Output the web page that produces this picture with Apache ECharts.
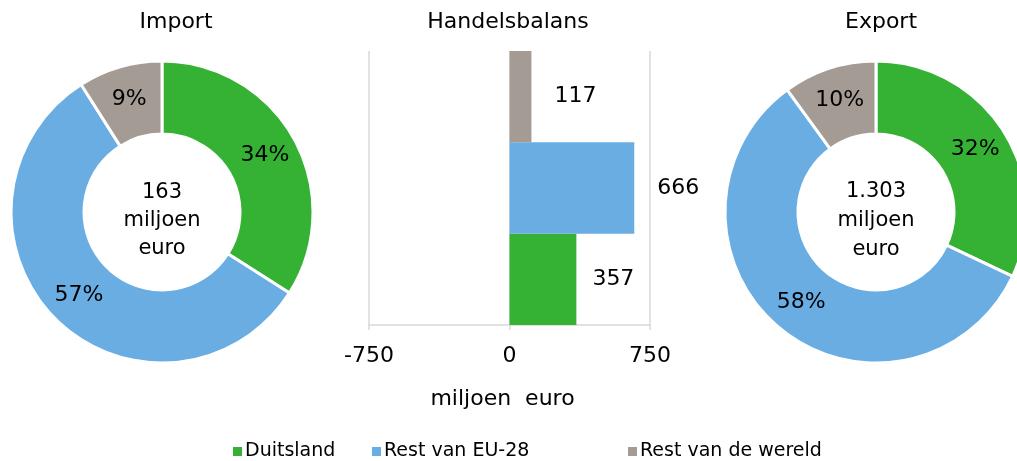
<!DOCTYPE html>
<html>
<head>
<meta charset="utf-8">
<script src="https://cdn.jsdelivr.net/npm/echarts@6/dist/echarts.min.js"></script>
<style>html,body{margin:0;padding:0;background:#fff}#c{width:1017px;height:461px}</style>
</head>
<body>
<div id="c"></div>
<script>
// Data
const categories = ['Duitsland', 'Rest van EU-28', 'Rest van de wereld'];
const importShare = [34, 57, 9];       // % of import
const exportShare = [32, 58, 10];      // % of export
const balance = [357, 666, 117];       // miljoen euro
const importTotal = '163';
const exportTotal = '1.303';
const balanceTicks = [-750, 0, 750];
const colors = ['#35b234', '#6aade3', '#a49b94'];
const barLabelGap = [16, 23, 23];

const FONT = '"DejaVu Sans", Verdana, sans-serif';
const chart = echarts.init(document.getElementById('c'));

function pieSeries(name, shares, cx) {
  return {
    type: 'pie', name: name,
    center: [cx, 212], radius: [78, 151],
    startAngle: 90, clockwise: true,
    avoidLabelOverlap: false,
    itemStyle: { borderColor: '#fff', borderWidth: 3 },
    label: {
      show: true, position: 'inside', color: '#000',
      fontFamily: FONT, fontSize: 22,
      formatter: p => Math.round(p.value) + '%'
    },
    labelLine: { show: false },
    emphasis: { scale: false },
    data: categories.map((c, i) => ({ name: c, value: shares[i], itemStyle: { color: colors[i] } }))
  };
}

function legend(name, left) {
  return {
    data: [name], left: left, top: 442, padding: 0,
    icon: 'rect', itemWidth: 9, itemHeight: 9, itemGap: 4,
    itemStyle: { borderWidth: 0 },
    textStyle: { fontFamily: FONT, fontSize: 19, color: '#000', padding: [2, 0, 0, -2] }
  };
}

const txt = (text, x, y, extra) => ({
  type: 'text', x: x, y: y,
  style: Object.assign({ text: text, fill: '#000', font: '22px ' + FONT, textAlign: 'center', textVerticalAlign: 'middle' }, extra || {})
});

chart.setOption({
  animation: false,
  textStyle: { fontFamily: FONT },
  legend: [legend(categories[0], 233), legend(categories[1], 372), legend(categories[2], 628)],
  grid: { left: 369, right: 367, top: 51, bottom: 136, containLabel: false },
  xAxis: {
    type: 'value', min: -750, max: 750, interval: 750,
    axisLine: { show: true, lineStyle: { color: '#d9d9d9', width: 1.5 } },
    axisTick: { show: true, length: 5, lineStyle: { color: '#d9d9d9', width: 1.5 } },
    splitLine: { show: true, lineStyle: { color: '#d9d9d9', width: 1.5 } },
    axisLabel: { color: '#000', fontFamily: FONT, fontSize: 22, margin: 20,
      formatter: v => balanceTicks.includes(v) ? String(v) : '' },
    name: 'miljoen  euro', nameLocation: 'middle', nameGap: 63,
    nameTextStyle: { color: '#000', fontFamily: FONT, fontSize: 22, padding: [0, 14, 0, 0] }
  },
  yAxis: {
    type: 'category', data: categories, show: false
  },
  series: [
    pieSeries('Import', importShare, 162),
    pieSeries('Export', exportShare, 876),
    {
      type: 'bar', name: 'Handelsbalans',
      barWidth: '100%', barCategoryGap: '0%',
      label: { show: true, position: 'right', color: '#000', fontFamily: FONT, fontSize: 22 },
      data: balance.map((v, i) => ({ value: v, itemStyle: { color: colors[i] }, label: { distance: barLabelGap[i] } }))
    }
  ],
  graphic: [
    txt('Import', 176, 22),
    txt('Handelsbalans', 508, 22),
    txt('Export', 881, 22),
    txt(importTotal + '\nmiljoen\neuro', 162, 221, { lineHeight: 28, font: '21px ' + FONT }),
    txt(exportTotal + '\nmiljoen\neuro', 876, 221, { lineHeight: 29, font: '21px ' + FONT })
  ]
});
</script>
</body>
</html>
